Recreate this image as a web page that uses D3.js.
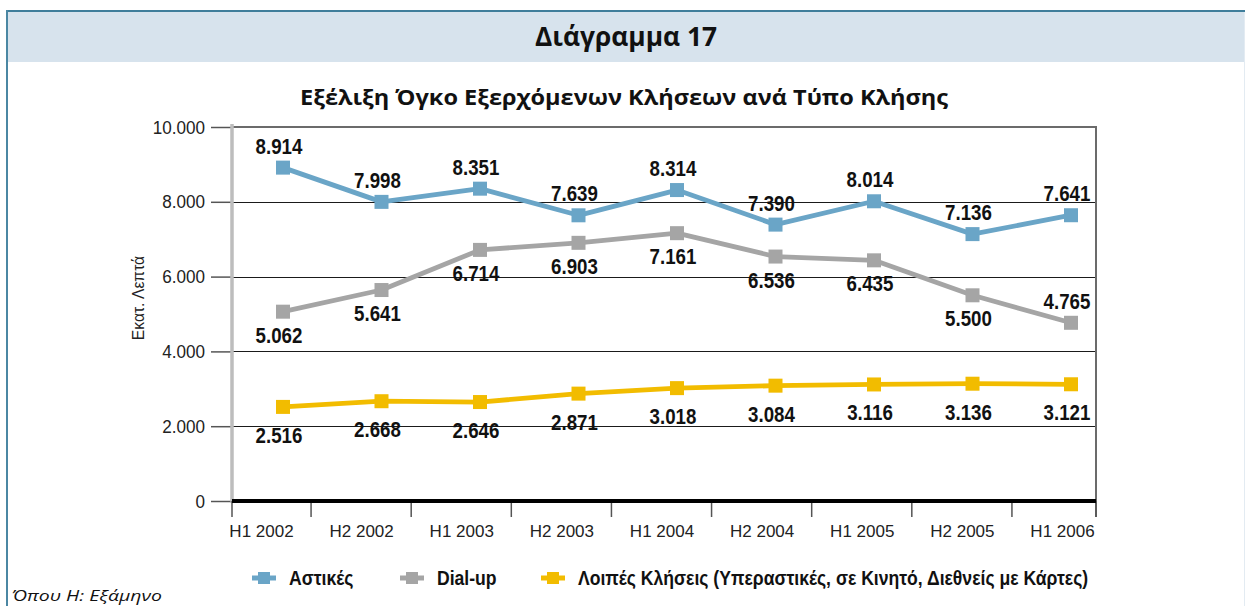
<!DOCTYPE html>
<html>
<head>
<meta charset="utf-8">
<script src="https://cdn.jsdelivr.net/npm/d3@7"></script>
<style>
  html, body { margin: 0; padding: 0; background: #fff; }
  svg { display: block; }
  text { font-family: "Liberation Sans", Arial, sans-serif; }
</style>
</head>
<body>
<svg id="chart" width="1245" height="606"></svg>
<script>
// ---------- DATA ----------
const categories = ["H1 2002", "H2 2002", "H1 2003", "H2 2003", "H1 2004", "H2 2004", "H1 2005", "H2 2005", "H1 2006"];
const astikes = [8914, 7998, 8351, 7639, 8314, 7390, 8014, 7136, 7641];
const dialup  = [5062, 5641, 6714, 6903, 7161, 6536, 6435, 5500, 4765];
const loipes  = [2516, 2668, 2646, 2871, 3018, 3084, 3116, 3136, 3121];
const yTicks = [0, 2000, 4000, 6000, 8000, 10000];
const seriesNames = ["Αστικές", "Dial-up", "Λοιπές Κλήσεις (Υπεραστικές, σε Κινητό, Διεθνείς με Κάρτες)"];
const chartTitle = "Διάγραμμα 17";
const chartSubtitle = "Εξέλιξη Όγκο Εξερχόμενων Κλήσεων ανά Τύπο Κλήσης";
const yAxisTitle = "Εκατ. Λεπτά";
const footnote = "Όπου Η: Εξάμηνο";

// ---------- STYLE / LAYOUT ----------
const colors = ["#6aa5c7", "#a5a5a5", "#f2bc00"];
const series = [
  { name: seriesNames[0], values: astikes, color: colors[0], side: i => "above" },
  { name: seriesNames[1], values: dialup,  color: colors[1], side: (i, n) => (i === n - 1 ? "above" : "below"), below: 31 },
  { name: seriesNames[2], values: loipes,  color: colors[2], side: i => "below", below: 36 }
];
const fmt = d => d3.format(",")(d).replace(/,/g, ".");

const svg = d3.select("#chart");
const W = 1245, H = 606;
const plot = { left: 232, right: 1096, top: 127, bottom: 501 };

function squeeze(sel, sx, xf, yf) {
  sel.attr("transform", (d, i) => `translate(${xf(d, i)},${yf(d, i)}) scale(${sx},1)`)
     .attr("x", 0).attr("y", 0);
}

// Frame & header band
svg.append("rect").attr("x", 8).attr("y", 12).attr("width", W - 8).attr("height", 50).attr("fill", "#d7e3ed");
svg.append("line").attr("x1", 6).attr("x2", W).attr("y1", 11).attr("y2", 11).attr("stroke", "#3f7e9b").attr("stroke-width", 2);
svg.append("line").attr("x1", 7).attr("x2", 7).attr("y1", 10).attr("y2", H).attr("stroke", "#4b87a3").attr("stroke-width", 2);
svg.append("line").attr("x1", 1244.5).attr("x2", 1244.5).attr("y1", 12).attr("y2", H).attr("stroke", "#e3ebf2").attr("stroke-width", 1);

svg.append("text").attr("x", 626).attr("y", 46).attr("text-anchor", "middle")
  .style("font-family", "'Open Sans', 'Noto Sans', sans-serif").attr("font-weight", 700).attr("font-size", 27)
  .attr("textLength", 182).attr("lengthAdjust", "spacingAndGlyphs")
  .attr("fill", "#111").text(chartTitle);

svg.append("text").attr("x", 624).attr("y", 105).attr("text-anchor", "middle")
  .style("font-family", "'Open Sans', 'Noto Sans', sans-serif").attr("font-weight", 700).attr("font-size", 22)
  .attr("textLength", 648).attr("lengthAdjust", "spacingAndGlyphs")
  .attr("fill", "#111").text(chartSubtitle);

// Scales
const y = d3.scaleLinear().domain([0, 10000]).range([plot.bottom, plot.top]);
const xLab = d3.scalePoint().domain(categories).range([261, 1062]);
const xPt = d3.scalePoint().domain(categories).range([283, 1071]);

// Gridlines
svg.append("g").selectAll("line").data(yTicks.filter(t => t > 0 && t < 10000)).join("line")
  .attr("x1", plot.left).attr("x2", plot.right)
  .attr("y1", d => Math.round(y(d)) + 0.5).attr("y2", d => Math.round(y(d)) + 0.5)
  .attr("stroke", "#1a1a1a").attr("stroke-width", 1.2);
svg.append("line").attr("x1", plot.left).attr("x2", plot.right).attr("y1", y(10000)).attr("y2", y(10000))
  .attr("stroke", "#6b6b6b").attr("stroke-width", 2);
svg.append("line").attr("x1", plot.right).attr("x2", plot.right).attr("y1", y(10000) - 1).attr("y2", plot.bottom + 16)
  .attr("stroke", "#6b6b6b").attr("stroke-width", 2);

// Y axis
const yAxis = d3.axisLeft(y).tickValues(yTicks).tickSize(20).tickPadding(6).tickFormat(fmt);
const gy = svg.append("g").attr("transform", `translate(${plot.left - 1},0)`).call(yAxis);
gy.attr("font-family", null);
gy.select(".domain").remove();
gy.selectAll(".tick line").attr("stroke", "#555").attr("stroke-width", 1.5);
gy.selectAll(".tick text").attr("font-size", 19).attr("fill", "#222")
  .each(function () {
    const t = d3.select(this);
    const x0 = +t.attr("x");
    t.attr("transform", `translate(${x0},0) scale(0.9,1)`).attr("x", 0);
  });
svg.append("line").attr("x1", plot.left).attr("x2", plot.left).attr("y1", plot.top - 3).attr("y2", plot.bottom + 2)
  .attr("stroke", "#bdbdbd").attr("stroke-width", 3.5);

// X axis
const xAxis = d3.axisBottom(xLab).tickSize(0).tickPadding(22);
const gx = svg.append("g").attr("transform", `translate(0,${plot.bottom})`).call(xAxis);
gx.attr("font-family", null);
gx.select(".domain").remove();
gx.selectAll(".tick text").attr("font-size", 17).attr("fill", "#222").attr("dy", "0.85em");
const labPos = categories.map(c => xLab(c));
const boundaries = [plot.left].concat(d3.pairs(labPos).map(([a, b]) => (a + b) / 2)).concat([plot.right]);
svg.append("g").selectAll("line").data(boundaries).join("line")
  .attr("x1", d => d).attr("x2", d => d).attr("y1", plot.bottom).attr("y2", plot.bottom + 16)
  .attr("stroke", "#555").attr("stroke-width", 1.5);
svg.append("line").attr("x1", plot.left).attr("x2", plot.right).attr("y1", plot.bottom).attr("y2", plot.bottom)
  .attr("stroke", "#000").attr("stroke-width", 4);

// Y axis title
svg.append("text").attr("transform", `translate(144,${(plot.top + plot.bottom) / 2 - 16}) rotate(-90) scale(0.92,1)`)
  .attr("text-anchor", "middle").attr("font-size", 17).attr("fill", "#222").text(yAxisTitle);

// Lines, markers, labels
const line = d3.line().x((d, i) => xPt(categories[i])).y(d => y(d));
series.forEach(s => {
  const g = svg.append("g");
  g.append("path").datum(s.values).attr("d", line).attr("fill", "none")
    .attr("stroke", s.color).attr("stroke-width", 4.8).attr("stroke-linejoin", "round");
  g.selectAll("rect").data(s.values).join("rect")
    .attr("x", (d, i) => xPt(categories[i]) - 7).attr("y", d => y(d) - 7)
    .attr("width", 14).attr("height", 14).attr("fill", s.color);
  const labels = g.selectAll("text").data(s.values).join("text")
    .attr("font-weight", "bold").attr("font-size", 22).attr("fill", "#111")
    .attr("text-anchor", "middle").text(fmt);
  squeeze(labels, 0.85,
    (d, i) => xPt(categories[i]) - 4,
    (d, i) => s.side(i, s.values.length) === "above" ? y(d) - 14 : y(d) + s.below);
});

// Legend
const legendX = [252, 400, 541];
const lg = svg.append("g");
series.forEach((s, i) => {
  const x0 = legendX[i], yy = 578;
  lg.append("line").attr("x1", x0).attr("x2", x0 + 24).attr("y1", yy).attr("y2", yy)
    .attr("stroke", s.color).attr("stroke-width", 5);
  lg.append("rect").attr("x", x0 + 6).attr("y", yy - 6).attr("width", 12).attr("height", 12).attr("fill", s.color);
  lg.append("text").attr("transform", `translate(${x0 + 37},${yy + 7}) scale(0.88,1)`)
    .attr("font-weight", "bold").attr("font-size", 20).attr("fill", "#111").text(s.name);
});

// Footnote
svg.append("text").attr("x", 12).attr("y", 601)
  .style("font-family", "'Open Sans', Lato, sans-serif").attr("font-style", "italic").attr("font-size", 15)
  .attr("textLength", 150).attr("lengthAdjust", "spacingAndGlyphs")
  .attr("fill", "#111").text(footnote);
</script>
</body>
</html>
